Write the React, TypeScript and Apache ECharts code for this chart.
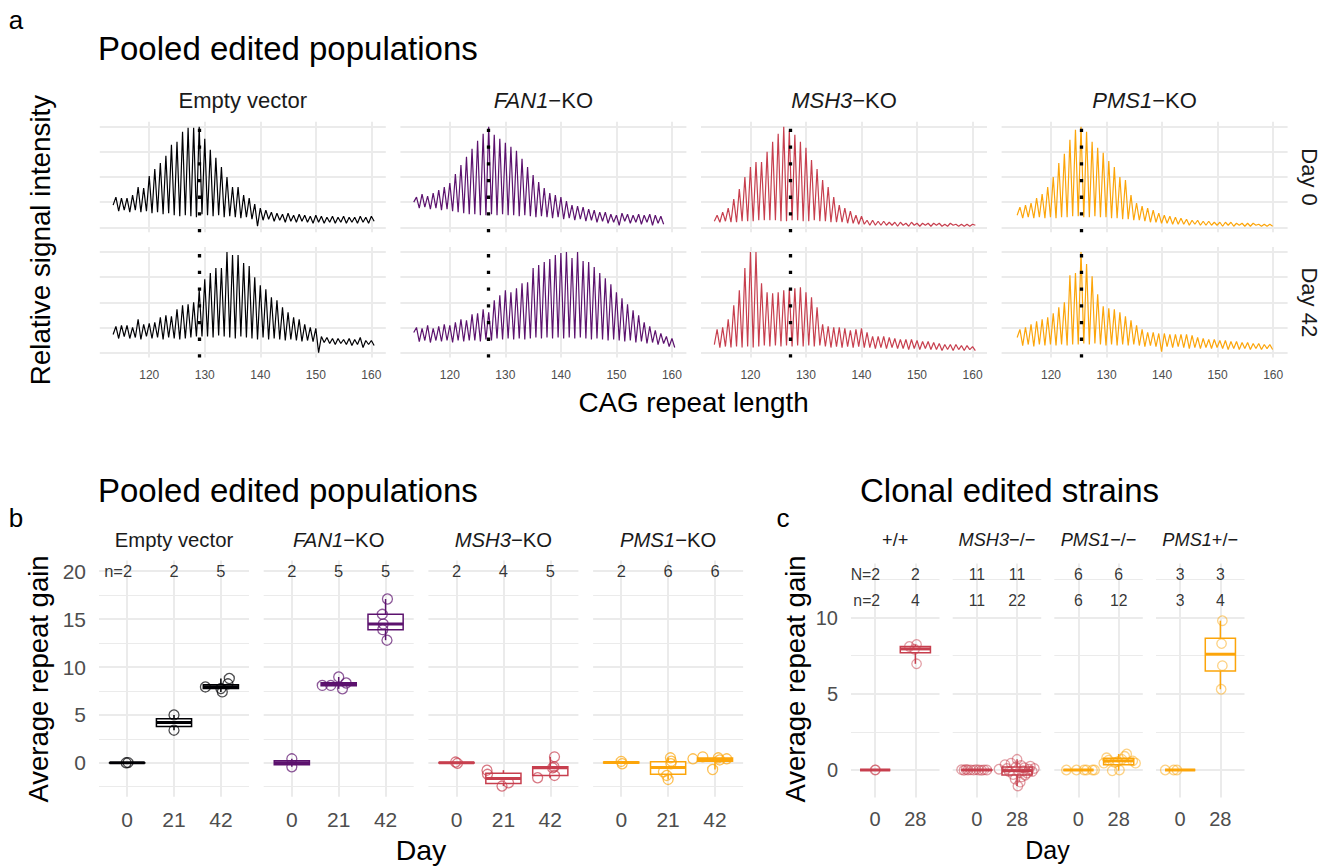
import React, { useEffect, useRef } from "react";
import * as echarts from "echarts";

const FONT = '"Liberation Sans", Arial, Helvetica, sans-serif';
const INK = "#000000";
const STRIP_INK = "#1A1A1A";
const TICK_INK = "#4D4D4D";
const GRID_INK = "#EBEBEB";

// ---------------- Panel a : fragment traces ----------------
const TRACE_GROUP_ITALIC = ["", "FAN1", "MSH3", "PMS1"];
const TRACE_GROUP_PLAIN = ["Empty vector", "−KO", "−KO", "−KO"];
const TRACE_DAYS = ["Day 0", "Day 42"];
const TRACE_COLORS = ["#000004", "#5C126E", "#C73F4E", "#FCA50A"];
const TRACE_X_TICKS = [120, 130, 140, 150, 160];
const TRACE_Y_TICKS = [0, 0.25, 0.5, 0.75, 1];
const TRACE_X_RANGE = [111.1, 162.6];
const TRACE_Y_RANGE = [-0.05, 1.05];
const REFERENCE_REPEAT = [129, 127, 127.1, 125.4];
const FIRST_PEAK = [114, 114, 114, 114.4];

const EV_D0_PEAKS = [
  0.30, 0.29, 0.29, 0.32, 0.40, 0.39, 0.51, 0.58, 0.64, 0.71,
  0.82, 0.85, 0.95, 0.99, 0.99, 1.00, 0.88, 0.77, 0.69, 0.60,
  0.50, 0.40, 0.40, 0.32, 0.29, 0.23, 0.19, 0.17, 0.15, 0.14,
  0.13, 0.14, 0.12, 0.13, 0.12, 0.11, 0.12, 0.11, 0.10, 0.11,
  0.10, 0.11, 0.10, 0.10, 0.11, 0.10, 0.11,
];
const EV_D0_VALLEYS = [
  0.22,
  0.16, 0.17, 0.15, 0.17, 0.15, 0.16, 0.14, 0.15, 0.13, 0.14,
  0.12, 0.11, 0.12, 0.11, 0.10, 0.13, 0.12, 0.11, 0.12, 0.10,
  0.11, 0.10, 0.09, 0.10, 0.08, 0.01, 0.07, 0.08, 0.06, 0.07,
  0.05, 0.06, 0.05, 0.06, 0.05, 0.04, 0.05, 0.04, 0.05, 0.04,
  0.05, 0.04, 0.05, 0.04, 0.05, 0.04, 0.06,
];
const EV_D42_PEAKS = [
  0.26, 0.27, 0.27, 0.25, 0.33, 0.28, 0.29, 0.30, 0.35, 0.37,
  0.36, 0.43, 0.47, 0.48, 0.50, 0.62, 0.73, 0.79, 0.84, 0.84,
  1.00, 0.97, 0.97, 0.89, 0.86, 0.75, 0.67, 0.63, 0.55, 0.52,
  0.45, 0.40, 0.35, 0.33, 0.28, 0.25, 0.24, 0.16, 0.15, 0.14,
  0.14, 0.13, 0.14, 0.13, 0.15, 0.12, 0.12,
];
const EV_D42_VALLEYS = [
  0.18,
  0.14, 0.16, 0.14, 0.15, 0.13, 0.16, 0.14, 0.15, 0.13, 0.15,
  0.14, 0.13, 0.14, 0.15, 0.16, 0.16, 0.16, 0.15, 0.17, 0.16,
  0.15, 0.14, 0.16, 0.15, 0.14, 0.13, 0.15, 0.13, 0.14, 0.13,
  0.12, 0.13, 0.12, 0.11, 0.12, 0.11, 0.00, 0.10, 0.09, 0.08,
  0.09, 0.08, 0.07, 0.08, 0.05, 0.08, 0.07,
];
const FAN1_D0_PEAKS = [
  0.30, 0.33, 0.31, 0.34, 0.37, 0.40, 0.44, 0.53, 0.62, 0.70,
  0.78, 0.86, 0.93, 1.00, 0.92, 0.88, 0.84, 0.80, 0.76, 0.68,
  0.60, 0.52, 0.45, 0.39, 0.34, 0.32, 0.30, 0.26, 0.22, 0.21,
  0.20, 0.18, 0.17, 0.15, 0.15, 0.13, 0.12, 0.14, 0.13, 0.12,
  0.13, 0.12, 0.13, 0.12, 0.11,
];
const FAN1_D0_VALLEYS = [
  0.25,
  0.19, 0.20, 0.18, 0.19, 0.17, 0.18, 0.16, 0.15, 0.14, 0.13,
  0.13, 0.12, 0.12, 0.13, 0.12, 0.13, 0.12, 0.12, 0.11, 0.12,
  0.11, 0.10, 0.11, 0.10, 0.09, 0.10, 0.08, 0.09, 0.07, 0.08,
  0.06, 0.07, 0.05, 0.06, 0.04, 0.05, 0.02, 0.06, 0.04, 0.05,
  0.03, 0.05, 0.02, 0.04, 0.03,
];
const FAN1_D42_PEAKS = [
  0.25, 0.24, 0.27, 0.24, 0.26, 0.28, 0.27, 0.30, 0.33, 0.32,
  0.38, 0.39, 0.43, 0.40, 0.52, 0.57, 0.62, 0.60, 0.64, 0.69,
  0.70, 0.84, 0.87, 0.90, 0.93, 0.97, 0.99, 1.00, 0.94, 1.00,
  0.91, 0.90, 0.85, 0.79, 0.74, 0.68, 0.60, 0.54, 0.48, 0.42,
  0.37, 0.30, 0.26, 0.22, 0.19, 0.16, 0.14,
];
const FAN1_D42_VALLEYS = [
  0.20,
  0.11, 0.12, 0.10, 0.12, 0.11, 0.12, 0.10, 0.12, 0.11, 0.12,
  0.12, 0.11, 0.13, 0.12, 0.14, 0.13, 0.14, 0.13, 0.14, 0.13,
  0.14, 0.15, 0.14, 0.15, 0.14, 0.15, 0.14, 0.15, 0.14, 0.15,
  0.14, 0.13, 0.14, 0.13, 0.12, 0.13, 0.12, 0.11, 0.12, 0.10,
  0.11, 0.09, 0.10, 0.08, 0.09, 0.06, 0.05,
];
const MSH3_D0_PEAKS = [
  0.12, 0.15, 0.19, 0.28, 0.38, 0.50, 0.60, 0.65, 0.65, 0.75,
  0.85, 0.93, 1.00, 0.96, 0.92, 0.85, 0.79, 0.67, 0.58, 0.47,
  0.40, 0.30, 0.22, 0.19, 0.16, 0.12, 0.11, 0.07, 0.07, 0.06,
  0.06, 0.05, 0.05, 0.05, 0.04, 0.05, 0.04, 0.04, 0.04, 0.04,
  0.04, 0.03, 0.04, 0.03, 0.03, 0.03, 0.03,
];
const MSH3_D0_VALLEYS = [
  0.06,
  0.05, 0.06, 0.05, 0.05, 0.06, 0.06, 0.06, 0.07, 0.07, 0.07,
  0.07, 0.06, 0.06, 0.07, 0.07, 0.06, 0.06, 0.07, 0.06, 0.06,
  0.05, 0.05, 0.05, 0.04, 0.04, 0.03, 0.03, 0.02, 0.02, 0.02,
  0.02, 0.02, 0.01, 0.02, 0.01, 0.02, 0.01, 0.02, 0.01, 0.02,
  0.01, 0.01, 0.02, 0.01, 0.01, 0.01, 0.02,
];
const MSH3_D42_PEAKS = [
  0.23, 0.25, 0.33, 0.47, 0.62, 0.84, 1.00, 1.00, 0.69, 0.60,
  0.59, 0.60, 0.62, 0.63, 0.64, 0.65, 0.60, 0.55, 0.45, 0.28,
  0.26, 0.25, 0.25, 0.24, 0.22, 0.23, 0.24, 0.20, 0.16, 0.16,
  0.16, 0.15, 0.14, 0.13, 0.13, 0.13, 0.12, 0.11, 0.11, 0.10,
  0.09, 0.08, 0.08, 0.08, 0.07, 0.07, 0.06,
];
const MSH3_D42_VALLEYS = [
  0.08,
  0.05, 0.06, 0.05, 0.06, 0.05, 0.06, 0.05, 0.06, 0.07, 0.06,
  0.07, 0.06, 0.07, 0.06, 0.07, 0.06, 0.07, 0.06, 0.07, 0.06,
  0.05, 0.06, 0.05, 0.06, 0.05, 0.06, 0.05, 0.05, 0.04, 0.05,
  0.04, 0.05, 0.04, 0.04, 0.03, 0.04, 0.03, 0.04, 0.03, 0.03,
  0.02, 0.03, 0.02, 0.03, 0.02, 0.03, 0.02,
];
const PMS1_D0_PEAKS = [
  0.20, 0.22, 0.24, 0.29, 0.33, 0.40, 0.50, 0.64, 0.73, 0.87,
  0.97, 1.00, 0.95, 0.85, 0.79, 0.74, 0.66, 0.60, 0.50, 0.47,
  0.32, 0.24, 0.21, 0.19, 0.17, 0.14, 0.12, 0.11, 0.10, 0.09,
  0.08, 0.07, 0.07, 0.06, 0.06, 0.05, 0.05, 0.05, 0.05, 0.04,
  0.04, 0.04, 0.04, 0.03, 0.03, 0.03,
];
const PMS1_D0_VALLEYS = [
  0.12,
  0.09, 0.10, 0.09, 0.10, 0.09, 0.10, 0.09, 0.10, 0.10, 0.11,
  0.11, 0.10, 0.10, 0.11, 0.10, 0.10, 0.09, 0.09, 0.08, 0.08,
  0.07, 0.07, 0.06, 0.05, 0.05, 0.04, 0.04, 0.03, 0.03, 0.03,
  0.02, 0.03, 0.02, 0.02, 0.02, 0.02, 0.01, 0.02, 0.01, 0.02,
  0.01, 0.01, 0.02, 0.01, 0.01, 0.01,
];
const PMS1_D42_PEAKS = [
  0.23, 0.25, 0.28, 0.31, 0.33, 0.35, 0.39, 0.45, 0.50, 0.77,
  0.79, 1.00, 0.88, 0.76, 0.58, 0.46, 0.44, 0.43, 0.40, 0.36,
  0.32, 0.27, 0.23, 0.20, 0.20, 0.19, 0.19, 0.18, 0.18, 0.18,
  0.18, 0.17, 0.15, 0.14, 0.13, 0.13, 0.12, 0.12, 0.11, 0.11,
  0.10, 0.10, 0.09, 0.09, 0.08, 0.08,
];
const PMS1_D42_VALLEYS = [
  0.15,
  0.07, 0.08, 0.06, 0.08, 0.07, 0.08, 0.07, 0.08, 0.07, 0.08,
  0.08, 0.09, 0.08, 0.09, 0.08, 0.07, 0.08, 0.07, 0.08, 0.07,
  0.08, 0.07, 0.06, 0.07, 0.06, 0.01, 0.06, 0.05, 0.06, 0.05,
  0.04, 0.05, 0.04, 0.05, 0.04, 0.05, 0.04, 0.03, 0.04, 0.03,
  0.04, 0.03, 0.04, 0.03, 0.04, 0.03,
];
const TRACE_PEAKS = [
  [EV_D0_PEAKS, EV_D42_PEAKS],
  [FAN1_D0_PEAKS, FAN1_D42_PEAKS],
  [MSH3_D0_PEAKS, MSH3_D42_PEAKS],
  [PMS1_D0_PEAKS, PMS1_D42_PEAKS],
];
const TRACE_VALLEYS = [
  [EV_D0_VALLEYS, EV_D42_VALLEYS],
  [FAN1_D0_VALLEYS, FAN1_D42_VALLEYS],
  [MSH3_D0_VALLEYS, MSH3_D42_VALLEYS],
  [PMS1_D0_VALLEYS, PMS1_D42_VALLEYS],
];

// ---------------- Panel b : pooled populations ----------------
const POOLED_ITALIC = ["", "FAN1", "MSH3", "PMS1"];
const POOLED_PLAIN = ["Empty vector", "−KO", "−KO", "−KO"];
const POOLED_COLORS = ["#000004", "#5C126E", "#C73F4E", "#FCA50A"];
const POOLED_DAYS = ["0", "21", "42"];
const POOLED_N = [[2, 2, 5], [2, 5, 5], [2, 4, 5], [2, 6, 6]];
const POOLED_Y_TICKS = [0, 5, 10, 15, 20];
const POOLED_Y_MINOR = [-2.5, 2.5, 7.5, 12.5, 17.5];
const POOLED_Y_RANGE = [-3.55, 21.12];
const POOLED_N_Y = 20;
// box stats: [lower whisker, Q1, median, Q3, upper whisker] per day
const EV_BOX = [[-0.02, -0.01, 0.0, 0.01, 0.02], [3.4, 3.8, 4.2, 4.6, 5.0], [7.4, 7.75, 7.95, 8.15, 8.8]];
const FAN1_BOX = [[-0.42, -0.21, 0.0, 0.21, 0.42], [7.72, 8.05, 8.19, 8.35, 8.96], [12.8, 13.9, 14.5, 15.5, 17.1]];
const MSH3_BOX = [[-0.05, -0.02, 0.0, 0.04, 0.08], [-2.43, -2.17, -1.65, -1.09, -0.77], [-1.56, -1.32, -0.52, -0.42, 0.62]];
const PMS1_BOX = [[-0.1, -0.03, 0.02, 0.09, 0.15], [-1.74, -1.2, -0.5, 0.1, 0.52], [-0.7, 0.15, 0.35, 0.51, 0.62]];
// points: [horizontal jitter (category units), gain]
const EV_POINTS = [
  [[-0.02, 0.0], [0.02, 0.02]],
  [[0.0, 5.0], [0.0, 3.4]],
  [[-0.33, 7.92], [0.03, 7.4], [0.0, 7.75], [0.18, 8.8], [0.15, 8.25]],
];
const FAN1_POINTS = [
  [[0.0, 0.42], [0.0, -0.42]],
  [[-0.35, 8.08], [-0.17, 8.08], [0.0, 8.96], [0.08, 7.72], [0.16, 8.33]],
  [[0.04, 17.1], [-0.07, 15.5], [-0.05, 14.5], [-0.06, 13.9], [0.03, 12.8]],
];
const MSH3_POINTS = [
  [[-0.02, 0.08], [0.02, -0.05]],
  [[-0.35, -0.77], [-0.34, -1.2], [-0.03, -2.43], [0.11, -2.09]],
  [[-0.27, -1.56], [0.09, 0.62], [0.08, -0.42], [0.09, -1.32], [0.05, -0.52]],
];
const PMS1_POINTS = [
  [[0.0, 0.15], [0.02, -0.1]],
  [[0.05, 0.52], [0.07, 0.17], [-0.1, -0.94], [-0.03, -1.32], [0.0, -1.74], [0.06, -0.1]],
  [[-0.47, 0.42], [-0.26, 0.62], [0.07, 0.52], [0.25, 0.42], [-0.05, -0.7], [0.1, 0.3]],
];
const POOLED_BOXES = [EV_BOX, FAN1_BOX, MSH3_BOX, PMS1_BOX];
const POOLED_POINTS = [EV_POINTS, FAN1_POINTS, MSH3_POINTS, PMS1_POINTS];

// ---------------- Panel c : clonal strains ----------------
const CLONAL_ITALIC = ["", "MSH3", "PMS1", "PMS1"];
const CLONAL_PLAIN = ["+/+", "−/−", "−/−", "+/−"];
const CLONAL_COLORS = ["#C73F4E", "#C73F4E", "#FCA50A", "#FCA50A"];
const CLONAL_DAYS = ["0", "28"];
const CLONAL_N_STRAINS = [[2, 2], [11, 11], [6, 6], [3, 3]];
const CLONAL_N_SAMPLES = [[2, 4], [11, 22], [6, 12], [3, 4]];
const CLONAL_Y_TICKS = [0, 5, 10];
const CLONAL_Y_MINOR = [2.5, 7.5, 12.5];
const CLONAL_Y_RANGE = [-1.8, 13.55];
const CLONAL_N_STRAINS_Y = 12.83;
const CLONAL_N_SAMPLES_Y = 11.12;
const WT_BOX = [[0, 0, 0, 0, 0], [6.97, 7.7, 7.95, 8.1, 8.24]];
const MSH3C_BOX = [[-0.03, -0.01, 0, 0.01, 0.03], [-1.05, -0.33, -0.04, 0.2, 0.7]];
const PMS1C_BOX = [[0, 0, 0, 0, 0], [-0.05, 0.35, 0.6, 0.77, 1.05]];
const PMS1HET_BOX = [[0, 0, 0, 0, 0], [5.3, 6.5, 7.6, 8.65, 9.8]];
const WT_POINTS = [
  [[0.0, 0.0], [0.01, 0.01]],
  [[-0.15, 8.11], [0.03, 8.24], [-0.02, 7.93], [0.03, 6.97]],
];
const MSH3C_POINTS = [
  [[-0.38, 0.02], [-0.32, -0.02], [-0.27, 0.03], [-0.22, 0.0], [-0.15, 0.01], [-0.08, -0.01],
   [-0.02, 0.02], [0.05, 0.0], [0.12, -0.02], [0.18, 0.01], [0.25, 0.0]],
  [[-0.45, 0.05], [-0.3, 0.35], [-0.25, 0.1], [-0.2, -0.1], [-0.15, 0.45], [-0.1, -0.3],
   [-0.05, -0.6], [-0.03, 0.2], [0.0, 0.7], [0.02, -1.05], [0.05, -0.15], [0.08, -0.8],
   [0.1, 0.3], [0.12, -0.45], [0.15, -0.05], [0.18, 0.15], [0.2, -0.35], [0.25, -0.2],
   [0.3, 0.05], [0.33, 0.25], [0.38, -0.1], [0.43, 0.1]],
];
const PMS1C_POINTS = [
  [[-0.3, 0.0], [-0.05, 0.0], [0.14, 0.0], [0.2, 0.0], [0.35, 0.0], [0.4, 0.0]],
  [[-0.37, 0.45], [-0.3, 0.8], [-0.25, 0.65], [-0.16, -0.05], [-0.1, 0.5], [-0.02, 0.55],
   [0.02, 0.0], [0.08, 0.7], [0.15, 0.9], [0.2, 1.05], [0.35, 0.6], [0.42, 0.45]],
];
const PMS1HET_POINTS = [
  [[-0.37, 0.0], [-0.16, 0.0], [-0.08, 0.0]],
  [[0.05, 9.8], [0.03, 8.3], [0.05, 6.85], [0.02, 5.3]],
];
const CLONAL_BOXES = [WT_BOX, MSH3C_BOX, PMS1C_BOX, PMS1HET_BOX];
const CLONAL_POINTS = [WT_POINTS, MSH3C_POINTS, PMS1C_POINTS, PMS1HET_POINTS];

// ---------------- layout (pixels) ----------------
const A_LEFTS = [99.8, 400.4, 701, 1001.6];
const A_WIDTH = 286;
const A_TOPS = [121.7, 247];
const A_HEIGHT = 110.6;
const B_LEFTS = [99, 263.7, 428.4, 593.1];
const B_WIDTH = 150;
const B_TOP = 560.5;
const B_HEIGHT = 236.3;
const C_LEFTS = [851, 952.7, 1054.3, 1156];
const C_WIDTH = 88.5;
const C_TOP = 563.6;
const C_HEIGHT = 233.8;
const BOX_HALF = 0.375;
const BOX_LW = 1.5;
const MEDIAN_LW = 3;
const MAJOR_W = 2;
const MINOR_W = 1.1;

function tracePoints(first: number, peaks: number[], valleys: number[]) {
  const pts: number[][] = [[first - 0.5, valleys[0]]];
  peaks.forEach((p, i) => {
    pts.push([first + i, p]);
    const v = valleys[i + 1] !== undefined ? valleys[i + 1] : valleys[valleys.length - 1];
    pts.push([first + i + 0.5, v]);
  });
  return pts;
}

function axis(min: number, max: number, labels: any) {
  return {
    type: "value",
    min,
    max,
    axisLine: { show: false },
    axisTick: { show: false },
    splitLine: { show: false },
    minorSplitLine: { show: false },
    axisLabel: labels
      ? {
          show: true,
          customValues: labels.values,
          formatter: labels.formatter,
          color: TICK_INK,
          fontSize: labels.fontSize,
          margin: labels.margin,
          fontFamily: FONT,
        }
      : { show: false },
  };
}

function gridLines(idx: number, xs: number[], ysMajor: number[], ysMinor: number[]) {
  const data = [
    ...xs.map((v) => ({ xAxis: v, lineStyle: { width: MAJOR_W, color: GRID_INK, type: "solid" } })),
    ...ysMajor.map((v) => ({ yAxis: v, lineStyle: { width: MAJOR_W, color: GRID_INK, type: "solid" } })),
    ...ysMinor.map((v) => ({ yAxis: v, lineStyle: { width: MINOR_W, color: GRID_INK, type: "solid" } })),
  ];
  return {
    type: "line",
    xAxisIndex: idx,
    yAxisIndex: idx,
    data: [],
    silent: true,
    z: 0,
    animation: false,
    markLine: {
      silent: true,
      z: 0,
      animation: false,
      symbol: ["none", "none"],
      label: { show: false },
      emphasis: { disabled: true },
      lineStyle: { color: GRID_INK, type: "solid", width: MAJOR_W },
      data,
    },
  };
}

function boxRenderer(color: string) {
  return (params: any, api: any) => {
    const x = api.value(0);
    const lo = api.value(1);
    const q1 = api.value(2);
    const med = api.value(3);
    const q3 = api.value(4);
    const hi = api.value(5);
    const pLo = api.coord([x, lo]);
    const pQ1 = api.coord([x, q1]);
    const pQ3 = api.coord([x, q3]);
    const pHi = api.coord([x, hi]);
    const tl = api.coord([x - BOX_HALF, q3]);
    const br = api.coord([x + BOX_HALF, q1]);
    const mL = api.coord([x - BOX_HALF, med]);
    const mR = api.coord([x + BOX_HALF, med]);
    return {
      type: "group",
      children: [
        { type: "line", shape: { x1: pLo[0], y1: pLo[1], x2: pQ1[0], y2: pQ1[1] }, style: { stroke: color, lineWidth: BOX_LW } },
        { type: "line", shape: { x1: pQ3[0], y1: pQ3[1], x2: pHi[0], y2: pHi[1] }, style: { stroke: color, lineWidth: BOX_LW } },
        {
          type: "rect",
          shape: { x: tl[0], y: tl[1], width: br[0] - tl[0], height: Math.max(br[1] - tl[1], 0) },
          style: { fill: "#ffffff", stroke: color, lineWidth: BOX_LW },
        },
        { type: "line", shape: { x1: mL[0], y1: mL[1], x2: mR[0], y2: mR[1] }, style: { stroke: color, lineWidth: MEDIAN_LW } },
      ],
    };
  };
}

function txt(x: number, y: number, text: string, fontSize: number, rotation = 0, align = "center", fill = INK) {
  return {
    type: "text",
    x,
    y,
    rotation,
    silent: true,
    style: {
      text,
      fill,
      fontSize,
      fontFamily: FONT,
      align,
      verticalAlign: "middle",
      textAlign: align,
      textVerticalAlign: "middle",
    },
  };
}

function strip(x: number, y: number, italic: string, plain: string, fontSize: number) {
  const text = (italic ? `{i|${italic}}` : "") + `{n|${plain}}`;
  return {
    type: "text",
    x,
    y,
    silent: true,
    style: {
      text,
      fill: STRIP_INK,
      fontSize,
      fontFamily: FONT,
      align: "center",
      verticalAlign: "middle",
      textAlign: "center",
      textVerticalAlign: "middle",
      rich: {
        i: { fontStyle: "italic", fontSize, fontFamily: FONT, fill: STRIP_INK },
        n: { fontSize, fontFamily: FONT, fill: STRIP_INK },
      },
    },
  };
}

function buildOption() {
  const grid: any[] = [];
  const xAxis: any[] = [];
  const yAxis: any[] = [];
  const series: any[] = [];
  const graphic: any[] = [];

  const addGrid = (left: number, top: number, width: number, height: number, xa: any, ya: any) => {
    const idx = grid.length;
    grid.push({ left, top, width, height, containLabel: false, outerBoundsMode: "none" });
    xAxis.push({ ...xa, gridIndex: idx });
    yAxis.push({ ...ya, gridIndex: idx });
    return idx;
  };

  // ---- panel a
  for (let r = 0; r < 2; r++) {
    for (let c = 0; c < 4; c++) {
      const idx = addGrid(
        A_LEFTS[c], A_TOPS[r], A_WIDTH, A_HEIGHT,
        axis(TRACE_X_RANGE[0], TRACE_X_RANGE[1], r === 1 ? { values: TRACE_X_TICKS, formatter: (v: number) => String(v), fontSize: 12, margin: 11 } : null),
        axis(TRACE_Y_RANGE[0], TRACE_Y_RANGE[1], null)
      );
      series.push(gridLines(idx, TRACE_X_TICKS, TRACE_Y_TICKS, []));
      series.push({
        type: "line",
        xAxisIndex: idx,
        yAxisIndex: idx,
        data: tracePoints(FIRST_PEAK[c], TRACE_PEAKS[c][r], TRACE_VALLEYS[c][r]),
        showSymbol: false,
        symbol: "none",
        silent: true,
        z: 2,
        animation: false,
        lineStyle: { color: TRACE_COLORS[c], width: 1.2 },
        itemStyle: { color: TRACE_COLORS[c] },
        markLine: {
          silent: true,
          z: 5,
          animation: false,
          symbol: ["none", "none"],
          label: { show: false },
          emphasis: { disabled: true },
          lineStyle: { color: "#000000", width: 3.3, type: [3.3, 13.4], cap: "butt" },
          data: [{ xAxis: REFERENCE_REPEAT[c] }],
        },
      });
    }
  }
  for (let c = 0; c < 4; c++) {
    graphic.push(strip(A_LEFTS[c] + A_WIDTH / 2, 100, TRACE_GROUP_ITALIC[c], TRACE_GROUP_PLAIN[c], 22));
  }
  for (let r = 0; r < 2; r++) {
    graphic.push(txt(1309, A_TOPS[r] + A_HEIGHT / 2, TRACE_DAYS[r], 22, -Math.PI / 2, "center", STRIP_INK));
  }

  // ---- panel b
  for (let g = 0; g < 4; g++) {
    const idx = addGrid(
      B_LEFTS[g], B_TOP, B_WIDTH, B_HEIGHT,
      axis(-0.6, 2.6, { values: [0, 1, 2], formatter: (v: number) => POOLED_DAYS[Math.round(v)], fontSize: 21, margin: 12 }),
      axis(POOLED_Y_RANGE[0], POOLED_Y_RANGE[1], g === 0 ? { values: POOLED_Y_TICKS, formatter: (v: number) => String(v), fontSize: 21, margin: 13 } : null)
    );
    const color = POOLED_COLORS[g];
    series.push(gridLines(idx, [0, 1, 2], POOLED_Y_TICKS, POOLED_Y_MINOR));
    series.push({
      type: "custom",
      xAxisIndex: idx,
      yAxisIndex: idx,
      data: POOLED_BOXES[g].map((b, i) => [i, ...b]),
      encode: { x: 0, y: [1, 2, 3, 4, 5] },
      renderItem: boxRenderer(color),
      silent: true,
      z: 2,
      animation: false,
    });
    series.push({
      type: "scatter",
      xAxisIndex: idx,
      yAxisIndex: idx,
      data: POOLED_POINTS[g].flatMap((pts, i) => pts.map(([o, v]) => [i + o, v])),
      symbol: "circle",
      symbolSize: 10,
      silent: true,
      z: 3,
      animation: false,
      itemStyle: { color: "rgba(0,0,0,0)", borderColor: color, borderWidth: 1.3, opacity: 0.7 },
    });
    series.push({
      type: "scatter",
      xAxisIndex: idx,
      yAxisIndex: idx,
      data: POOLED_N[g].map((n, i) => ({
        value: [i, POOLED_N_Y],
        label: g === 0 && i === 0 ? { formatter: "n=" + n, align: "right", offset: [5, 0] } : { formatter: String(n) },
      })),
      symbol: "circle",
      symbolSize: 1,
      silent: true,
      z: 4,
      animation: false,
      itemStyle: { color: "rgba(0,0,0,0)" },
      label: { show: true, position: "inside", color: INK, fontSize: 16.5, fontFamily: FONT },
    });
    graphic.push(strip(B_LEFTS[g] + B_WIDTH / 2, 540, POOLED_ITALIC[g], POOLED_PLAIN[g], 20.3));
  }

  // ---- panel c
  for (let g = 0; g < 4; g++) {
    const idx = addGrid(
      C_LEFTS[g], C_TOP, C_WIDTH, C_HEIGHT,
      axis(-0.6, 1.6, { values: [0, 1], formatter: (v: number) => CLONAL_DAYS[Math.round(v)], fontSize: 20, margin: 12 }),
      axis(CLONAL_Y_RANGE[0], CLONAL_Y_RANGE[1], g === 0 ? { values: CLONAL_Y_TICKS, formatter: (v: number) => String(v), fontSize: 20, margin: 13 } : null)
    );
    const color = CLONAL_COLORS[g];
    series.push(gridLines(idx, [0, 1], CLONAL_Y_TICKS, CLONAL_Y_MINOR));
    series.push({
      type: "custom",
      xAxisIndex: idx,
      yAxisIndex: idx,
      data: CLONAL_BOXES[g].map((b, i) => [i, ...b]),
      encode: { x: 0, y: [1, 2, 3, 4, 5] },
      renderItem: boxRenderer(color),
      silent: true,
      z: 2,
      animation: false,
    });
    series.push({
      type: "scatter",
      xAxisIndex: idx,
      yAxisIndex: idx,
      data: CLONAL_POINTS[g].flatMap((pts, i) => pts.map(([o, v]) => [i + o, v])),
      symbol: "circle",
      symbolSize: 9.5,
      silent: true,
      z: 3,
      animation: false,
      itemStyle: { color: "rgba(0,0,0,0)", borderColor: color, borderWidth: 1.3, opacity: 0.5 },
    });
    const rows = [
      { y: CLONAL_N_STRAINS_Y, counts: CLONAL_N_STRAINS[g], prefix: "N=" },
      { y: CLONAL_N_SAMPLES_Y, counts: CLONAL_N_SAMPLES[g], prefix: "n=" },
    ];
    rows.forEach((row) => {
      series.push({
        type: "scatter",
        xAxisIndex: idx,
        yAxisIndex: idx,
        data: row.counts.map((n, i) => ({
          value: [i, row.y],
          label: g === 0 && i === 0 ? { formatter: row.prefix + n, align: "right", offset: [5, 0] } : { formatter: String(n) },
        })),
        symbol: "circle",
        symbolSize: 1,
        silent: true,
        z: 4,
        animation: false,
        itemStyle: { color: "rgba(0,0,0,0)" },
        label: { show: true, position: "inside", color: INK, fontSize: 15.8, fontFamily: FONT },
      });
    });
    graphic.push(strip(C_LEFTS[g] + C_WIDTH / 2, 540, CLONAL_ITALIC[g], CLONAL_PLAIN[g], 18.2));
  }

  // ---- titles and axis titles
  graphic.push(txt(16, 20, "a", 26));
  graphic.push(txt(16, 518, "b", 26));
  graphic.push(txt(783, 518, "c", 26));
  graphic.push(txt(98, 48, "Pooled edited populations", 33, 0, "left"));
  graphic.push(txt(98, 490, "Pooled edited populations", 33, 0, "left"));
  graphic.push(txt(860, 490, "Clonal edited strains", 33, 0, "left"));
  graphic.push(txt(40, 240, "Relative signal intensity", 27.8, Math.PI / 2));
  graphic.push(txt(693.5, 402, "CAG repeat length", 27.8));
  graphic.push(txt(38, 679, "Average repeat gain", 27.5, Math.PI / 2));
  graphic.push(txt(421, 850, "Day", 28.5));
  graphic.push(txt(795.5, 679, "Average repeat gain", 27.5, Math.PI / 2));
  graphic.push(txt(1047.5, 850, "Day", 25));

  return {
    animation: false,
    backgroundColor: "#ffffff",
    textStyle: { fontFamily: FONT },
    grid,
    xAxis,
    yAxis,
    series,
    graphic: { elements: graphic },
  };
}

export default function App() {
  const ref = useRef<HTMLDivElement | null>(null);
  useEffect(() => {
    if (!ref.current) return;
    const chart = echarts.init(ref.current, null, { renderer: "svg" });
    chart.setOption(buildOption() as any);
    return () => chart.dispose();
  }, []);
  return (
    <div
      ref={ref}
      style={{ position: "absolute", left: 0, top: 0, width: 1330, height: 866, background: "#ffffff" }}
    />
  );
}
